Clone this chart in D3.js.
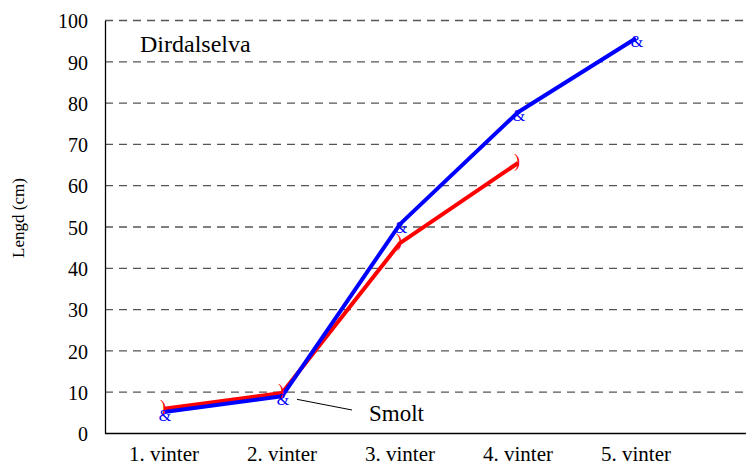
<!DOCTYPE html>
<html>
<head>
<meta charset="utf-8">
<script src="https://cdn.jsdelivr.net/npm/d3@7"></script>
<style>
  body { margin: 0; background: #fff; }
  svg { display: block; }
  svg text { font-family: "Liberation Serif", "Times New Roman", "DejaVu Serif", serif; }
</style>
</head>
<body>
<svg></svg>
<script>
let categories = ['1. vinter', '2. vinter', '3. vinter', '4. vinter', '5. vinter']
let blueValues = [5.2, 9.0, 50.7, 77.8, 95.7]
let redValues = [6.0, 9.8, 46.1, 65.5]
let yTicks = [0, 10, 20, 30, 40, 50, 60, 70, 80, 90, 100]

let w = 746
let h = 465
let plotLeft = 105
let plotRight = 746
let plotTop = 20.5
let plotBottom = 433.5

let svg = d3.select('svg').attr('width', w).attr('height', h)

let xScale = d3.scaleBand()
    .domain(categories)
    .range([plotLeft, plotLeft + 118 * categories.length])

let yScale = d3.scaleLinear()
    .domain([0, 100])
    .range([plotBottom, plotTop])

let cx = (d) => xScale(d) + xScale.bandwidth() / 2

// dashed gridlines
svg.append('g')
    .selectAll('line')
    .data(yTicks.filter(t => t > 0))
    .enter()
    .append('line')
    .attr('x1', plotLeft)
    .attr('x2', plotRight)
    .attr('y1', d => yScale(d))
    .attr('y2', d => yScale(d))
    .attr('stroke', '#555')
    .attr('stroke-width', 1.3)
    .attr('stroke-dasharray', '8,6')

// axes
let yAxis = d3.axisLeft(yScale).tickValues(yTicks).tickSize(0).tickPadding(17)
let yG = svg.append('g').attr('transform', 'translate(' + plotLeft + ',0)').call(yAxis)
yG.attr('font-family', null).attr('font-size', null)
yG.select('.domain').attr('stroke', '#000').attr('stroke-width', 1.3)
yG.selectAll('text').style('font-size', '20px').attr('fill', '#000').attr('dy', '0.36em')

let xAxis = d3.axisBottom(xScale).tickSize(0).tickPadding(13)
let xG = svg.append('g').attr('transform', 'translate(0,' + plotBottom + ')').call(xAxis)
xG.attr('font-family', null).attr('font-size', null)
xG.select('.domain').remove()
xG.selectAll('text').style('font-size', '21px').attr('fill', '#000')
svg.append('line')
    .attr('x1', plotLeft).attr('x2', plotRight)
    .attr('y1', plotBottom).attr('y2', plotBottom)
    .attr('stroke', '#000').attr('stroke-width', 1.5)

// lines
let line = d3.line()
    .x((d, i) => cx(categories[i]))
    .y(d => yScale(d))

svg.append('path')
    .datum(redValues)
    .attr('d', line)
    .attr('fill', 'none')
    .attr('stroke', '#ff0000')
    .attr('stroke-width', 4)
    .attr('stroke-linejoin', 'round')

svg.append('path')
    .datum(blueValues)
    .attr('d', line)
    .attr('fill', 'none')
    .attr('stroke', '#0000ff')
    .attr('stroke-width', 4)
    .attr('stroke-linejoin', 'round')

// markers
svg.selectAll('.redmark')
    .data(redValues)
    .enter()
    .append('text')
    .attr('class', 'redmark')
    .attr('x', (d, i) => cx(categories[i]) - 1)
    .attr('y', d => yScale(d) + 4)
    .attr('text-anchor', 'middle')
    .style('font-size', '18px')
    .attr('fill', '#ff0000')
    .text(')')

svg.selectAll('.bluemark')
    .data(blueValues)
    .enter()
    .append('text')
    .attr('class', 'bluemark')
    .attr('x', (d, i) => cx(categories[i]) + 1)
    .attr('y', d => yScale(d) + 9)
    .attr('text-anchor', 'middle')
    .style('font-size', '16px')
    .attr('fill', '#0000ff')
    .text('&')

// labels
svg.append('text')
    .attr('x', 140).attr('y', 52)
    .style('font-size', '24px')
    .text('Dirdalselva')

svg.append('text')
    .attr('transform', 'translate(24,218) rotate(-90)')
    .attr('text-anchor', 'middle')
    .style('font-size', '17px')
    .text('Lengd (cm)')

svg.append('line')
    .attr('x1', cx(categories[1]) + 15).attr('y1', yScale(blueValues[1]) + 3)
    .attr('x2', 352).attr('y2', 410)
    .attr('stroke', '#000').attr('stroke-width', 1)

svg.append('text')
    .attr('x', 369).attr('y', 421)
    .style('font-size', '23px')
    .text('Smolt')
</script>
</body>
</html>
